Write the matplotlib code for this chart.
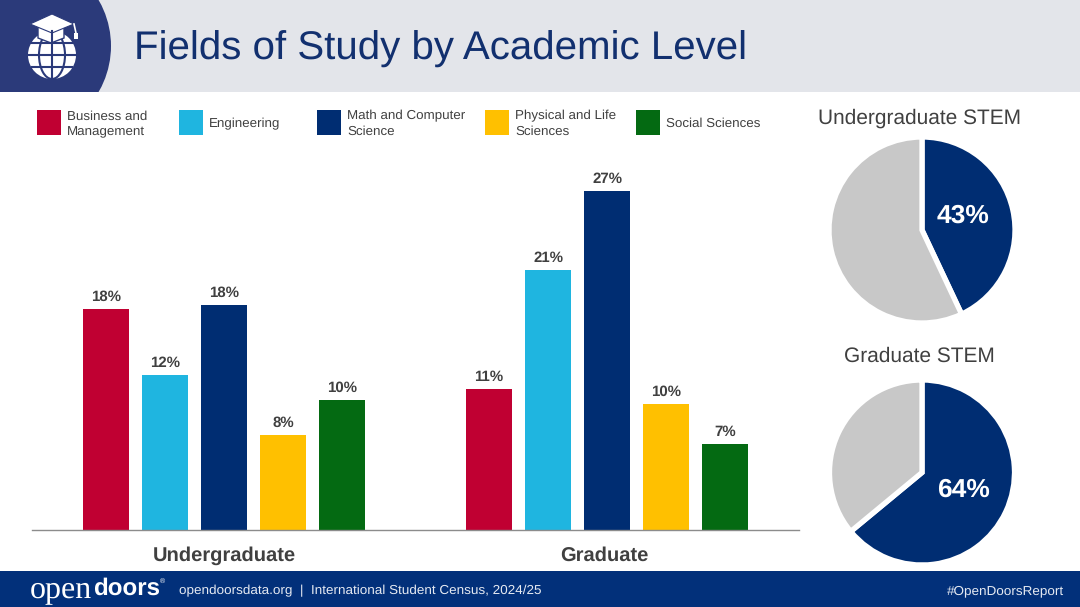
import matplotlib
matplotlib.use("Agg")
import matplotlib.pyplot as plt
from matplotlib.patches import Rectangle, Circle, Ellipse, Polygon

plt.rcParams['font.family'] = ['Liberation Sans', 'DejaVu Sans']
plt.rcParams['text.hinting'] = 'no_hinting'
plt.rcParams['text.hinting_factor'] = 8

# Data
title = "Fields of Study by Academic Level"
fields = ["Business and\nManagement", "Engineering", "Math and Computer\nScience",
          "Physical and Life\nSciences", "Social Sciences"]
colors = ["#C00032", "#1FB5E0", "#002D72", "#FFC000", "#046A12"]
levels = ["Undergraduate", "Graduate"]
undergrad_values = [17.7, 12.4, 18.0, 7.6, 10.4]
undergrad_labels = ["18%", "12%", "18%", "8%", "10%"]
graduate_values = [11.3, 20.8, 27.1, 10.1, 6.9]
graduate_labels = ["11%", "21%", "27%", "10%", "7%"]
stem_titles = ["Undergraduate STEM", "Graduate STEM"]
stem_shares = [43, 64]
stem_labels = ["43%", "64%"]

W, H = 1080, 607
NAVY = "#002D72"
TXT = "#404040"
ICON = "#2B3A7A"
fig = plt.figure(figsize=(W / 100, H / 100), dpi=100, facecolor="white")

def px_axes(x0, y0, x1, y1, **kw):
    return fig.add_axes([x0 / W, 1 - y1 / H, (x1 - x0) / W, (y1 - y0) / H], **kw)

# Overlay in pixel coordinates for banner, footer, legend and text
ov = px_axes(0, 0, W, H)
ov.set_xlim(0, W); ov.set_ylim(H, 0); ov.axis("off")
ov.add_patch(Rectangle((0, 0), W, 92, fc="#E3E5EA", ec="none"))
blob = Ellipse((12, 46), 198, 190, fc=ICON, ec="none")
ov.add_patch(blob)
blob.set_clip_path(Rectangle((0, 0), W, 92, transform=ov.transData))
ov.text(134, 49, title, fontsize=29, color="#12306F", va="center", ha="left")

# Globe icon
ov.add_patch(Circle((52, 55), 24, fc="white", ec="none"))
gl = dict(color=ICON, lw=1.5)
ov.plot([28, 76], [55, 55], **gl)
ov.plot([52, 52], [31, 79], **gl)
ov.plot([31, 73], [43, 43], **gl)
ov.plot([32, 72], [67, 67], **gl)
ov.add_patch(Ellipse((52, 55), 26, 48, fc="none", ec=ICON, lw=1.5))
# Cap
ov.add_patch(Polygon([[38, 27], [38, 38], [51, 43], [64, 38], [64, 27]], fc="white", ec=ICON, lw=1))
ov.add_patch(Polygon([[30, 24], [52, 14], [74, 24], [52, 33]], fc="white", ec=ICON, lw=0.8))
ov.plot([74, 76], [24, 33], color="white", lw=1.2)
ov.add_patch(Rectangle((73.5, 33), 4.5, 6, fc="white", ec="none"))

# Footer
ov.add_patch(Rectangle((0, 571), W, 36, fc="#02307A", ec="none"))
ov.text(30, 589, "open", fontsize=23, family="Liberation Serif", color="white", va="center", ha="left")
ov.text(93, 588.5, "doors", fontsize=17.4, fontweight="bold", color="white", va="center", ha="left")
ov.text(160, 581, "\u00ae", fontsize=5, color="white", va="center", ha="left")
ov.text(179, 591, "opendoorsdata.org  |  International Student Census, 2024/25", fontsize=9.7,
        color="#E6EAF2", va="center", ha="left")
ov.text(1064, 591, "#OpenDoorsReport", fontsize=9.7, color="#E6EAF2", va="center", ha="right")

# Legend
swatch_x = [37, 179, 317, 485, 636]
for sx, c, f in zip(swatch_x, colors, fields):
    ov.add_patch(Rectangle((sx, 110), 24, 25, fc=c, ec="none"))
    ov.text(sx + 30, 124, f, fontsize=9.6, color=TXT, va="center", ha="left", linespacing=1.38)

# Bars
ax = px_axes(32, 140, 799, 530)
scale = 12.5
ax.set_ylim(0, 390 / scale)
ax.set_xlim(32, 799)
starts = [83, 466]
n = len(fields)
step, bw = 59, 46.2
for start, vals, labs in zip(starts, [undergrad_values, graduate_values],
                             [undergrad_labels, graduate_labels]):
    xs = [start + i * step + bw / 2 for i in range(n)]
    ax.bar(xs, vals, width=bw, color=colors)
    for x, v, l in zip(xs, vals, labs):
        ax.annotate(l, (x, v), xytext=(0, 3.5), textcoords="offset points", ha="center",
                    va="bottom", fontsize=10.8, fontweight="bold", color=TXT)
for s in ["top", "left", "right"]:
    ax.spines[s].set_visible(False)
ax.spines["bottom"].set_color("#8C8C8C")
ax.spines["bottom"].set_linewidth(1)
ax.set_yticks([])
ax.set_xticks([224, 604.5], levels, fontsize=14.5, fontweight="bold", color=TXT)
ax.tick_params(axis="x", length=0, pad=12)
ax.patch.set_alpha(0)

# Pies
centers = [(922, 230, 93), (922, 472.5, 92.5)]
title_pos = [(919.5, 118), (919.5, 356.5)]
label_y = [216, 490]
for (cx, cy, r), share, lab, t, (tx, ty), ly in zip(centers, stem_shares, stem_labels, stem_titles, title_pos, label_y):
    pa = px_axes(cx - r, cy - r, cx + r, cy + r)
    pa.pie([share, 100 - share], colors=[NAVY, "#C8C8C8"], startangle=90, counterclock=False,
           radius=1.0, wedgeprops=dict(edgecolor="white", linewidth=3.8))
    pa.set_xlim(-1, 1); pa.set_ylim(-1, 1)
    ov.text(tx, ty, t, fontsize=15, color=TXT, ha="center", va="center")
    ov.text(963, ly, lab, fontsize=19, fontweight="bold", color="white", ha="center", va="center", zorder=10)

ov.set_zorder(5)
fig.savefig("out.png", dpi=100)
